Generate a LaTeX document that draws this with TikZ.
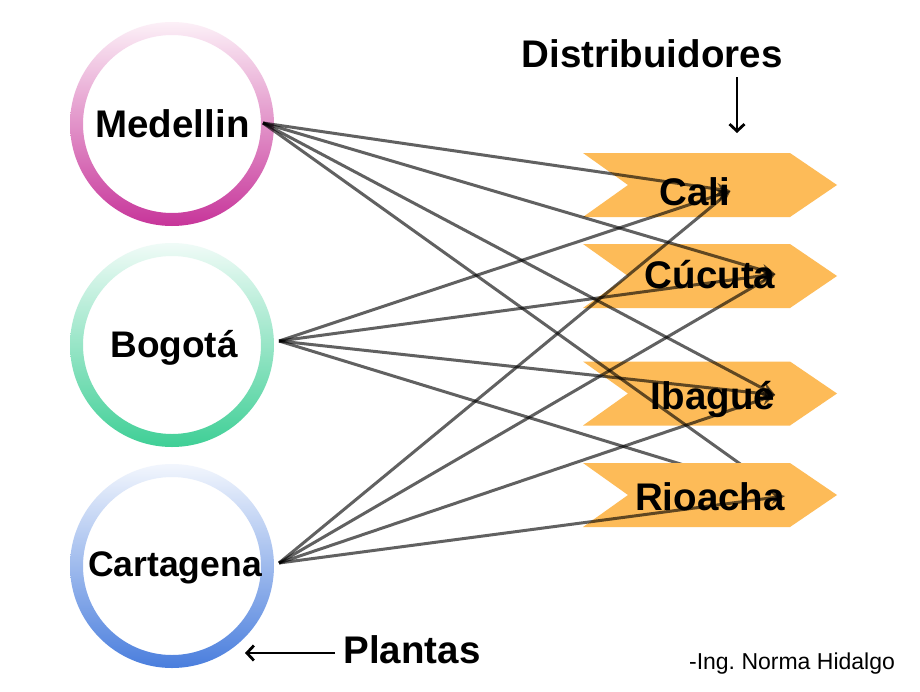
\documentclass[tikz,border=0pt]{standalone}
\usepackage{fontspec}
\setmainfont{Liberation Sans}
\usetikzlibrary{arrows.meta,calc}
\pgfdeclarelayer{chevs}
\pgfdeclarelayer{linesA}
\pgfdeclarelayer{rio}
\pgfsetlayers{chevs,linesA,rio,main}
\definecolor{chev}{HTML}{FDBB58}
\definecolor{magT}{HTML}{FCF0F7}
\definecolor{magB}{HTML}{C7359A}
\definecolor{grnT}{HTML}{F0FBF7}
\definecolor{grnB}{HTML}{3FCF96}
\definecolor{bluT}{HTML}{F2F6FD}
\definecolor{bluB}{HTML}{4A7EDD}
\newcommand\chevronat[1]{\fill[chevfill] (583,{#1-32}) -- (790,{#1-32}) -- (837,#1) -- (790,{#1+32}) -- (583,{#1+32}) -- (628,#1) -- cycle;}
\newcommand\ringat[4]{\shade[top color=#3, bottom color=#4, even odd rule] (#1,#2) circle[radius=102pt] (#1,#2) circle[radius=89pt];}
\begin{document}
\begin{tikzpicture}[x=1pt,y=-1pt,
  bold/.style={font=\bfseries\fontsize{38.5}{46}\selectfont, inner sep=0pt},
  lbl/.style={bold, text height=28pt, text depth=0pt, anchor=base},
  chevfill/.style={fill=chev},
  link/.style={draw=black, opacity=0.62, line width=3pt, -{Stealth[length=14pt,width=12pt]}},
  note/.style={draw=black, line width=2.8pt, -{Straight Barb[length=7pt,width=15pt]}}]
\useasboundingbox (0,0) rectangle (920,691);

\begin{pgfonlayer}{chevs}
  \fill[white] (0,0) rectangle (920,691);
  \ringat{172}{124}{magT}{magB}
  \ringat{172}{345}{grnT}{grnB}
  \ringat{172}{566}{bluT}{bluB}
  \chevronat{185}
  \chevronat{276}
  \chevronat{393.5}
  \node[lbl] (cali) at (695,205) {Cali};
  \node[lbl] (cucuta) at (710,288) {Cúcuta};
  \node[lbl] (ibague) at (713,409) {Ibagué};
\end{pgfonlayer}
\begin{pgfonlayer}{rio}
  \chevronat{495}
  \node[lbl] (rioacha) at (710,510) {Rioacha};
\end{pgfonlayer}

\node[bold, anchor=base] (med) at (172.5,137) {Medellin};
\node[bold, anchor=base, font=\bfseries\fontsize{37}{44}\selectfont] (bog) at (174,357) {Bogotá};
\node[bold, anchor=base, font=\bfseries\fontsize{35.5}{42}\selectfont] (car) at (175,576) {Cartagena};

\coordinate (mS) at (263,123);
\coordinate (bS) at (279,341);
\coordinate (cS) at (279,563);

\begin{pgfonlayer}{linesA}
  \draw[link] (mS) -- (cali.east);
  \draw[link] (mS) -- (cucuta.east);
  \draw[link] (mS) -- (ibague.east);
  \draw[link] (mS) -- (rioacha.east);
  \draw[link] (bS) -- (cali.east);
  \draw[link] (bS) -- (cucuta.east);
  \draw[link] (bS) -- (ibague.east);
  \draw[link] (bS) -- (rioacha.east);
\end{pgfonlayer}
\draw[link] (cS) -- (cali.east);
\draw[link] (cS) -- (cucuta.east);
\draw[link] (cS) -- (ibague.east);
\draw[link] (cS) -- (rioacha.east);

\node[bold, anchor=base] (dist) at (652,67) {Distribuidores};
\coordinate (dA) at (737,77);
\coordinate (dB) at (737,133);
\draw[note] (dA) -- (dB);

\node[bold, anchor=base] (plantas) at (412,663) {Plantas};
\coordinate (pA) at (335,653);
\coordinate (pB) at (245,653);
\draw[note] (pA) -- (pB);

\node[anchor=base, inner sep=0pt, font=\fontsize{23}{28}\selectfont] (autor) at (792,669) {-Ing.\ Norma Hidalgo};
\end{tikzpicture}
\end{document}
